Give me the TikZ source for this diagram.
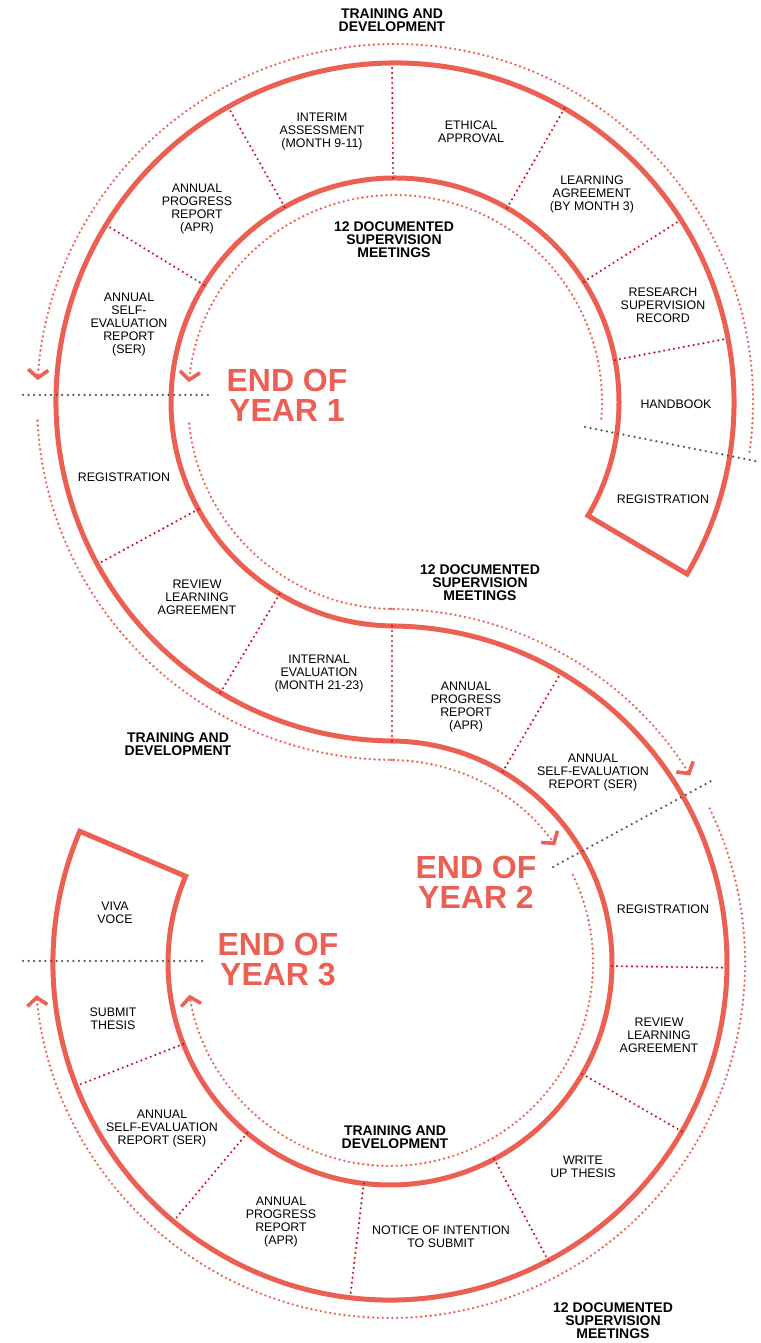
\documentclass[tikz,border=0pt]{standalone}
\usepackage{fontspec}
\setmainfont{Liberation Sans}
\usetikzlibrary{arrows.meta,calc}
\definecolor{band}{RGB}{236,96,84}
\definecolor{divred}{RGB}{208,12,32}
\definecolor{dotred}{RGB}{236,96,86}
\definecolor{grayline}{RGB}{85,85,85}
\begin{document}
\begin{tikzpicture}[x=1pt,y=1pt,
  bandline/.style={draw=band,line width=5pt,line join=miter},
  divider/.style={draw=divred,line width=2.4pt,line cap=round,dash pattern=on 0pt off 5pt},
  flow/.style={draw=dotred,line width=2.6pt,line cap=round,dash pattern=on 0pt off 4.8pt,
    -{Straight Barb[length=8pt,width=20pt,line width=3.6pt]}},
  yearline/.style={draw=grayline,line width=2.5pt,line cap=round,dash pattern=on 0pt off 5.6pt},
  lbl/.style={align=center,font=\fontsize{12.4}{13}\selectfont,text=black,inner sep=0pt},
  blbl/.style={align=center,font=\fontsize{14}{13}\selectfont\bfseries,text=black,inner sep=0pt},
  yearlbl/.style={align=center,font=\fontsize{32}{30}\selectfont\bfseries,text=band,inner sep=0pt},
]
\useasboundingbox (0,0) rectangle (760,1343);
% centres of the two loops of the S
\coordinate (C1) at (395,941);
\coordinate (C2) at (390,380);

% ---- the S-shaped band ----
\draw[bandline]
  ($(C1)+(-30.5:339)$) arc[start angle=-30.5,end angle=270,radius=339]
  -- ($(C2)+(90:222)$) arc[start angle=90,end angle=-203,radius=222]
  -- ($(C2)+(-203:337)$) arc[start angle=-203,end angle=90,radius=337]
  -- ($(C1)+(270:224)$) arc[start angle=270,end angle=-30.5,radius=224]
  -- cycle;

% ---- dark red dotted dividers ----
\foreach \a in {90.5,60,32.5,10.8,119.5,148.5,208.6,239}
  \draw[divider] ($(C1)+(\a:224)$) -- ($(C1)+(\a:339)$);
\coordinate (J1) at (392,602);
\coordinate (J2) at (392,717);
\draw[divider] (J1) -- (J2);
\foreach \a in {59.5,-0.8,-30,-62,-96.8,-130,-158.6}
  \draw[divider] ($(C2)+(\a:222)$) -- ($(C2)+(\a:337)$);

% ---- grey year lines ----
\coordinate (y1a) at (23,948); \coordinate (y1b) at (208,948);
\draw[yearline] (y1a) -- (y1b);
\coordinate (y1c) at (585,916); \coordinate (y1d) at (760,881);
\draw[yearline] (y1c) -- (y1d);
\coordinate (y2a) at (553,476); \coordinate (y2b) at (715,564);
\draw[yearline] (y2a) -- (y2b);
\coordinate (y3a) at (23,382); \coordinate (y3b) at (203,382);
\draw[yearline] (y3a) -- (y3b);

% ---- dotted flow arcs ----
\draw[flow] ($(C1)+(-8:358)$) arc[start angle=-8,end angle=176.5,radius=358];
\draw[flow] ($(C1)+(-4.6:207)$) arc[start angle=-4.6,end angle=174.5,radius=207];
\draw[flow] ($(C1)+(183:358)$) arc[start angle=183,end angle=270,radius=358]
  -- ($(C2)+(90:203)$) arc[start angle=90,end angle=35.5,radius=203];
\draw[flow] ($(C1)+(186:207)$) arc[start angle=186,end angle=270,radius=207]
  -- ($(C2)+(90:354)$) arc[start angle=90,end angle=32,radius=354];
\draw[flow] ($(C2)+(25.8:355)$) arc[start angle=25.8,end angle=-174.8,radius=355];
\draw[flow] ($(C2)+(25.7:203)$) arc[start angle=25.7,end angle=-171,radius=203];

% ---- labels, year 1 ----
\node[blbl] (td1) at (392,1323) {TRAINING AND\\DEVELOPMENT};
\node[lbl] (interim) at (322,1211) {INTERIM\\ASSESSMENT\\(MONTH 9-11)};
\node[lbl] (ethical) at (471,1211) {ETHICAL\\APPROVAL};
\node[lbl] (la1) at (592,1149) {LEARNING\\AGREEMENT\\(BY MONTH 3)};
\node[lbl] (rsr) at (663,1038) {RESEARCH\\SUPERVISION\\RECORD};
\node[lbl] (hb) at (676,939) {HANDBOOK};
\node[lbl] (reg1) at (663,844) {REGISTRATION};
\node[lbl] (apr1) at (197,1134) {ANNUAL\\PROGRESS\\REPORT\\(APR)};
\node[lbl] (ser1) at (129,1018) {ANNUAL\\SELF-\\EVALUATION\\REPORT\\(SER)};
\node[blbl] (sm1) at (394,1103) {12 DOCUMENTED\\SUPERVISION\\MEETINGS};
\node[yearlbl] (ey1) at (287,948) {END OF\\YEAR 1};

% ---- labels, year 2 ----
\node[lbl] (reg2) at (124,866) {REGISTRATION};
\node[lbl] (rla2) at (197,746) {REVIEW\\LEARNING\\AGREEMENT};
\node[lbl] (ie) at (319,669) {INTERNAL\\EVALUATION\\(MONTH 21-23)};
\node[blbl] (td2) at (178,599) {TRAINING AND\\DEVELOPMENT};
\node[blbl] (sm2) at (480,760) {12 DOCUMENTED\\SUPERVISION\\MEETINGS};
\node[lbl] (apr2) at (466,636) {ANNUAL\\PROGRESS\\REPORT\\(APR)};
\node[lbl] (ser2) at (593,570) {ANNUAL\\SELF-EVALUATION\\REPORT (SER)};
\node[yearlbl] (ey2) at (476,461) {END OF\\YEAR 2};

% ---- labels, year 3 ----
\node[lbl] (reg3) at (663,434) {REGISTRATION};
\node[lbl] (rla3) at (659,308) {REVIEW\\LEARNING\\AGREEMENT};
\node[lbl] (wut) at (583,176) {WRITE\\UP THESIS};
\node[lbl] (nots) at (441,106) {NOTICE OF INTENTION\\TO SUBMIT};
\node[blbl] (sm3) at (613,22) {12 DOCUMENTED\\SUPERVISION\\MEETINGS};
\node[blbl] (td3) at (395,206) {TRAINING AND\\DEVELOPMENT};
\node[lbl] (apr3) at (281,121) {ANNUAL\\PROGRESS\\REPORT\\(APR)};
\node[lbl] (ser3) at (162,214) {ANNUAL\\SELF-EVALUATION\\REPORT (SER)};
\node[lbl] (subm) at (113,324) {SUBMIT\\THESIS};
\node[lbl] (viva) at (115,430) {VIVA\\VOCE};
\node[yearlbl] (ey3) at (278,383) {END OF\\YEAR 3};
\end{tikzpicture}
\end{document}
